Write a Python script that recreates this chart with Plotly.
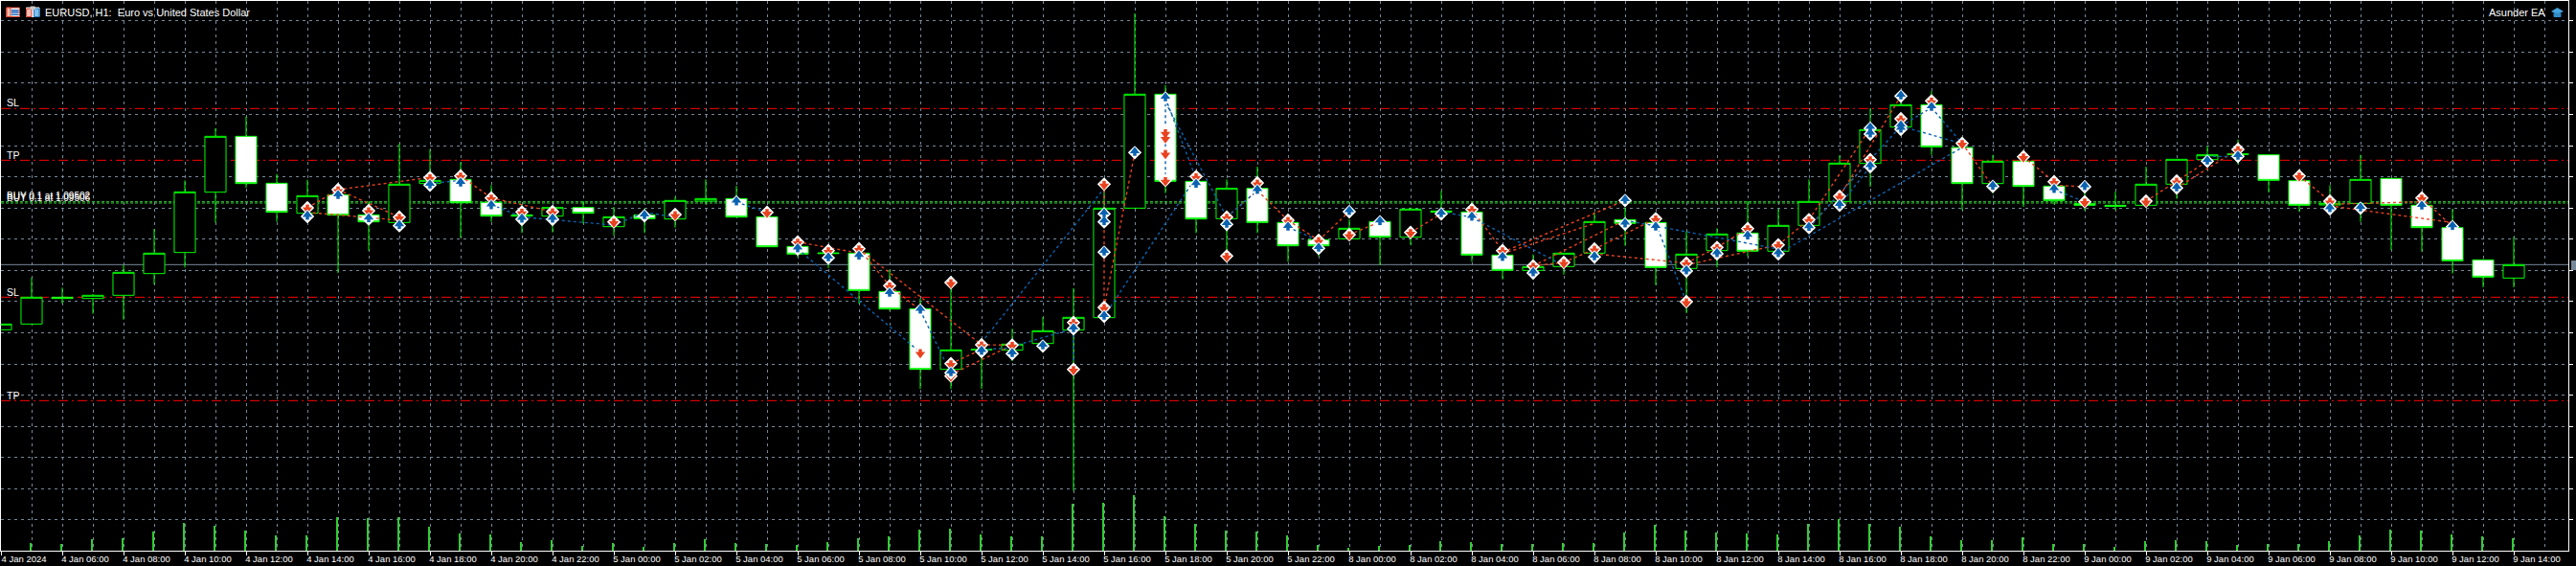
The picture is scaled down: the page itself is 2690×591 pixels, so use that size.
import plotly.graph_objects as go

# Prices are in EURUSD points (price x 100000)
bars = list(range(83))
open_pts = [109100,109118,109202,109198,109208,109276,109342,109531,109706,109559,109465,109523,109460,109436,109558,109571,109499,109460,109456,109483,109423,109460,109447,109503,109511,109454,109361,109341,109340,109220,109166,108976,109037,109036,109057,109099,109138,109481,109838,109565,109448,109543,109436,109382,109385,109439,109390,109472,109469,109334,109286,109298,109340,109445,109436,109292,109348,109403,109346,109427,109502,109621,109735,109805,109671,109558,109628,109550,109495,109490,109490,109556,109633,109651,109648,109567,109491,109496,109574,109490,109420,109319,109262]
high_pts = [109118,109263,109232,109212,109303,109416,109568,109731,109768,109588,109570,109543,109503,109683,109665,109625,109553,109493,109485,109503,109485,109480,109516,109571,109551,109478,109388,109361,109363,109288,109198,109248,109060,109103,109140,109230,109553,110091,109866,109591,109571,109611,109463,109393,109446,109448,109483,109535,109488,109358,109336,109340,109468,109483,109453,109408,109418,109503,109478,109571,109646,109793,109833,109848,109683,109648,109643,109573,109558,109533,109611,109634,109675,109696,109648,109593,109553,109648,109574,109513,109478,109321,109391]
low_pts = [109100,109118,109182,109150,109132,109242,109295,109435,109545,109438,109443,109278,109348,109416,109543,109388,109438,109403,109405,109433,109395,109403,109420,109493,109453,109360,109327,109293,109182,109160,108915,108915,108915,109002,109035,108595,109138,109481,109528,109403,109313,109403,109313,109330,109385,109303,109366,109453,109313,109258,109258,109273,109318,109363,109240,109152,109295,109330,109346,109413,109501,109548,109735,109648,109475,109528,109485,109493,109473,109475,109483,109510,109618,109618,109530,109470,109473,109438,109350,109345,109276,109233,109233]
close_pts = [109118,109202,109198,109208,109280,109340,109532,109706,109558,109468,109520,109459,109438,109556,109568,109498,109456,109456,109483,109465,109454,109448,109505,109511,109453,109360,109337,109339,109223,109165,108976,109037,109038,109055,109097,109139,109481,109838,109565,109447,109543,109436,109363,109363,109418,109390,109478,109469,109334,109286,109298,109340,109439,109433,109295,109337,109400,109346,109427,109502,109622,109727,109805,109673,109558,109628,109549,109505,109490,109487,109556,109634,109648,109649,109568,109490,109496,109571,109490,109420,109316,109265,109304]
volumes = [200,250,220,370,400,610,880,790,640,470,490,1060,1030,1060,760,550,520,280,340,160,250,130,250,370,250,220,190,280,400,460,670,700,520,460,460,1480,1510,1750,1090,850,640,610,490,190,100,160,190,310,280,220,220,250,250,580,820,640,580,550,520,850,1000,850,760,460,340,340,430,220,220,130,310,340,310,190,220,220,310,490,670,640,520,460,400]

tick_bars = list(range(0, 83, 2))
tick_labels = ["4 Jan 2024","4 Jan 06:00","4 Jan 08:00","4 Jan 10:00","4 Jan 12:00","4 Jan 14:00","4 Jan 16:00","4 Jan 18:00","4 Jan 20:00","4 Jan 22:00",
 "5 Jan 00:00","5 Jan 02:00","5 Jan 04:00","5 Jan 06:00","5 Jan 08:00","5 Jan 10:00","5 Jan 12:00","5 Jan 14:00","5 Jan 16:00","5 Jan 18:00","5 Jan 20:00","5 Jan 22:00",
 "8 Jan 00:00","8 Jan 02:00","8 Jan 04:00","8 Jan 06:00","8 Jan 08:00","8 Jan 10:00","8 Jan 12:00","8 Jan 14:00","8 Jan 16:00","8 Jan 18:00","8 Jan 20:00","8 Jan 22:00",
 "9 Jan 00:00","9 Jan 02:00","9 Jan 04:00","9 Jan 06:00","9 Jan 08:00","9 Jan 10:00","9 Jan 12:00","9 Jan 14:00"]
grid_pts = [110068,109970,109874,109775,109676,109580,109481,109385,109286,109190,109091,108992,108896,108797,108701,108602,108506]

sell_deals = [(10,109482),(11,109539),(12,109473),(13,109453),(14,109577),(15,109582),(16,109513),(17,109469),(18,109470),(20,109438),(22,109461),(25,109468),(26,109375),(27,109348),(28,109354),(29,109238),(30,109029),(31,109248),(31,108994),(31,108955),(32,109053),(33,109052),(35,109123),(35,108976),(36,109556),(36,109170),(38,109718),(38,109702),(38,109653),(38,109568),(39,109580),(40,109453),(40,109331),(41,109560),(42,109443),(43,109380),(44,109398),(46,109405),(48,109477),(49,109348),(50,109300),(51,109311),(52,109353),(54,109448),(55,109309),(55,109188),(56,109358),(57,109417),(58,109366),(59,109445),(60,109518),(61,109633),(62,109761),(63,109817),(64,109684),(66,109642),(67,109564),(68,109501),(70,109503),(71,109566),(73,109665),(75,109582),(76,109503),(79,109513)]
buy_deals = [(10,109455),(11,109520),(12,109447),(13,109426),(14,109553),(15,109559),(16,109488),(17,109446),(18,109446),(21,109457),(24,109500),(26,109353),(27,109325),(28,109330),(29,109214),(30,109161),(31,108965),(32,109032),(33,109025),(34,109049),(35,109103),(36,109463),(36,109438),(36,109343),(36,109142),(37,109655),(38,109826),(39,109555),(40,109430),(41,109536),(42,109421),(43,109355),(44,109470),(45,109438),(47,109463),(48,109452),(49,109326),(50,109278),(52,109328),(53,109505),(53,109431),(54,109421),(55,109284),(56,109338),(57,109393),(58,109338),(59,109420),(60,109490),(61,109731),(61,109713),(61,109611),(62,109832),(62,109738),(62,109728),(63,109796),(65,109549),(67,109539),(68,109548),(71,109544),(72,109628),(73,109643),(76,109479),(77,109481),(79,109487),(80,109423)]

red_links = [(10,109468,13,109443),(10,109482,11,109539),(11,109539,14,109577),(11,109539,13,109453),(15,109582,16,109513),(16,109513,18,109470),(26,109375,28,109340),(28,109354,29,109238),(28,109354,32,109053),(29,109238,30,109161),(31,108960,33,109052),(31,108994,32,109038),(32,109053,33,109052),(36,109556,36,109170),(36,109170,37,109655),(40,109453,41,109536),(41,109536,42,109443),(42,109443,43,109380),(43,109380,44,109470),(44,109398,45,109438),(46,109405,47,109463),(48,109477,49,109348),(49,109343,53,109505),(49,109338,52,109433),(50,109300,53,109443),(50,109300,51,109311),(51,109311,52,109353),(52,109353,54,109448),(52,109338,55,109309),(55,109303,58,109366),(55,109309,56,109358),(56,109358,57,109417),(58,109366,59,109445),(59,109445,61,109731),(60,109518,62,109832),(59,109420,61,109633),(64,109684,65,109549),(66,109642,67,109564),(67,109553,68,109548),(70,109503,72,109628),(71,109544,73,109665),(75,109582,76,109503),(76,109488,80,109436),(76,109493,79,109501),(79,109513,80,109423)]
blue_links = [(14,109558,15,109568),(16,109493,17,109453),(17,109453,20,109428),(20,109428,21,109468),(21,109468,22,109453),(24,109500,25,109468),(26,109353,30,109029),(30,109161,31,108963),(32,109060,36,109543),(36,109142,39,109578),(38,109826,38,109568),(38,109826,39,109573),(38,109813,40,109453),(40,109453,41,109536),(42,109421,43,109380),(32,109038,33,109043),(33,109048,35,109103),(35,109103,35,108976),(47,109470,48,109452),(48,109452,51,109301),(53,109443,58,109353),(54,109433,55,109188),(58,109338,64,109671),(59,109420,62,109738),(60,109490,61,109611),(62,109738,63,109796),(62,109738,64,109683),(63,109796,64,109683),(67,109539,68,109501),(72,109643,73,109643)]

sl_levels = [109793, 109202]
tp_levels = [109631, 108878]
entry_levels = [109501, 109497]
bid_level = 109304
price_top, price_bottom = 110130, 108408
volume_top = 17220

title_text = "EURUSD, H1:  Euro vs United States Dollar"
ea_text = "Asunder EA"
trade_labels = ["BUY 0.1 at 1.09502", "BUY 0.1 at 1.09506"]

P = lambda v: v / 100000
W, H = 2690, 591
L, R, T, B = 1, 8, 1, 16
PW, PH = W - L - R, H - T - B
px = lambda x: (x - L) / PW
py = lambda y: 1 - (y - T) / PH
GREEN = "#00FF00"
GRID = "#778899"
RED = "#E8421E"
BLUE = "#0A62B0"
GRID_DASH = "3px,4px"


def link_xy(links):
    xs, ys = [], []
    for a, b, c, d in links:
        xs += [a, c, None]
        ys += [P(b), P(d), None]
    return xs, ys


fig = go.Figure()
fig.add_trace(go.Bar(x=bars, y=volumes, yaxis="y2", width=0.07, offset=-0.07,
                     marker=dict(color="#32CD32", line=dict(width=0)), hoverinfo="skip", showlegend=False))
fig.add_trace(go.Candlestick(x=bars, open=[P(v) for v in open_pts], high=[P(v) for v in high_pts],
                             low=[P(v) for v in low_pts], close=[P(v) for v in close_pts],
                             increasing=dict(line=dict(color=GREEN, width=1), fillcolor="#000000"),
                             decreasing=dict(line=dict(color=GREEN, width=1), fillcolor="#FFFFFF"),
                             whiskerwidth=0, showlegend=False))
for links, col in ((red_links, RED), (blue_links, BLUE)):
    xs, ys = link_xy(links)
    fig.add_trace(go.Scatter(x=xs, y=ys, mode="lines", line=dict(color=col, width=1.4, dash="3px,3px"),
                             hoverinfo="skip", showlegend=False))

for deals, col, sym, stem_shift in ((sell_deals, RED, "triangle-down", 5), (buy_deals, BLUE, "triangle-up", -5)):
    xs = [d[0] for d in deals]
    ys = [P(d[1]) for d in deals]
    fig.add_trace(go.Scatter(x=xs, y=ys, mode="markers", hoverinfo="skip", showlegend=False,
                             marker=dict(symbol="diamond", size=11, color="#FFFFFF", line=dict(width=0))))
    fig.add_trace(go.Scatter(x=xs, y=[P(d[1] + stem_shift) for d in deals], mode="markers", hoverinfo="skip", showlegend=False,
                             marker=dict(symbol="square", size=3.5, color=col, line=dict(width=0))))
    fig.add_trace(go.Scatter(x=xs, y=[P(d[1] - stem_shift) for d in deals], mode="markers", hoverinfo="skip", showlegend=False,
                             marker=dict(symbol=sym, size=9, color=col, line=dict(width=0))))

shapes = []
for lv in sl_levels + tp_levels:
    shapes.append(dict(type="line", xref="paper", x0=0, x1=1, yref="y", y0=P(lv), y1=P(lv), layer="below",
                       line=dict(color="#FF0000", width=1, dash="10px,4px,2px,4px")))
for lv in entry_levels:
    shapes.append(dict(type="line", xref="paper", x0=0, x1=1, yref="y", y0=P(lv), y1=P(lv), layer="below",
                       line=dict(color="#32CD32", width=1, dash="3px,2px")))
shapes.append(dict(type="line", xref="paper", x0=0, x1=1, yref="y", y0=P(bid_level), y1=P(bid_level), layer="below",
                   line=dict(color=GRID, width=1)))
# price tag cut off at the right edge
shapes.append(dict(type="rect", xref="paper", yref="paper", x0=px(2685), x1=px(2690), y0=py(282), y1=py(272),
                   fillcolor=GRID, line=dict(width=0)))


def box(x0, y0, x1, y1, fill, line=None):
    shapes.append(dict(type="rect", xref="paper", yref="paper", x0=px(x0), x1=px(x1), y0=py(y1), y1=py(y0),
                       fillcolor=fill, line=dict(color=line or fill, width=1)))


# toolbar icons
box(6.5, 8, 20.5, 17.5, "#FFFFFF", "#D8402C")
box(7, 8, 11, 17.5, "#F4C0B0", "#D8402C")
for yy in (10.5, 12.5, 15):
    box(12, yy, 19.5, yy + 0.6, "#2A6FC0")
box(27.5, 8, 41, 17.5, "#FFFFFF")
box(27.5, 9, 33, 17.5, "#F6BDB0", "#D8402C")
box(35.5, 9, 41, 17.5, "#7FC0EE", "#1F78C8")
box(32, 7, 36.5, 9.5, "#C8C8C8")
# graduation cap
shapes.append(dict(type="path", xref="paper", yref="paper", fillcolor="#45A5E0", line=dict(width=0),
                   path=f"M {px(2664)},{py(12)} L {px(2670.5)},{py(8)} L {px(2677)},{py(12)} L {px(2670.5)},{py(15)} Z"))
box(2667, 14, 2674, 17.5, "#2F8CC8")

ann = []


def text(s, x, y, size=10.5, anchor="left"):
    ann.append(dict(text=s, xref="paper", yref="paper", x=px(x), y=py(y), xanchor=anchor, yanchor="middle",
                    showarrow=False, font=dict(family="Liberation Sans", size=size, color="#FFFFFF"),
                    borderpad=0, borderwidth=0))


text(title_text, 47, 13, 11)
text(ea_text, 2658, 13, 11, "right")
text("SL", 6.5, 107)
text("TP", 6.5, 161.5)
text("SL", 6.5, 304.5)
text("TP", 6.5, 412.5)
text(trade_labels[0], 7, 205, 10)
text(trade_labels[1], 7, 206, 10)

fig.update_layout(
    width=W, height=H, margin=dict(l=L, r=R, t=T, b=B, pad=0, autoexpand=False), paper_bgcolor="#000000", plot_bgcolor="#000000",
    showlegend=False, boxgap=0.31, boxgroupgap=0, bargap=0, shapes=shapes, annotations=ann, hovermode=False,
    xaxis=dict(range=[0, (W - L - R) / 32], rangeslider=dict(visible=False), tickmode="array",
               tickvals=tick_bars, ticktext=tick_labels, ticks="outside", ticklen=4, tickcolor="#FFFFFF", tickwidth=1,
               tickangle=0, ticklabelshift=24, ticklabelstandoff=-4, ticklabeloverflow="allow",
               tickfont=dict(family="Liberation Sans", size=9.5, color="#FFFFFF"),
               showline=True, linecolor="#FFFFFF", linewidth=1, mirror=True,
               showgrid=True, gridcolor=GRID, griddash=GRID_DASH, gridwidth=1, zeroline=False,
               minor=dict(tickmode="linear", tick0=0, dtick=1, showgrid=True, gridcolor=GRID, griddash=GRID_DASH, gridwidth=1, ticks="")),
    yaxis=dict(range=[P(price_bottom), P(price_top)], side="right", tickmode="array", tickvals=[P(v) for v in grid_pts],
               showticklabels=False, ticks="outside", ticklen=4, tickcolor="#FFFFFF",
               showline=True, linecolor="#FFFFFF", linewidth=1, mirror=True,
               showgrid=True, gridcolor=GRID, griddash=GRID_DASH, gridwidth=1, zeroline=False),
    yaxis2=dict(overlaying="y", range=[0, volume_top], visible=False, showgrid=False),
)
fig.write_html("out.html", config={"displayModeBar": False},
               post_script="document.body.style.margin='0';document.body.style.background='#000';document.documentElement.style.overflow='hidden';")
